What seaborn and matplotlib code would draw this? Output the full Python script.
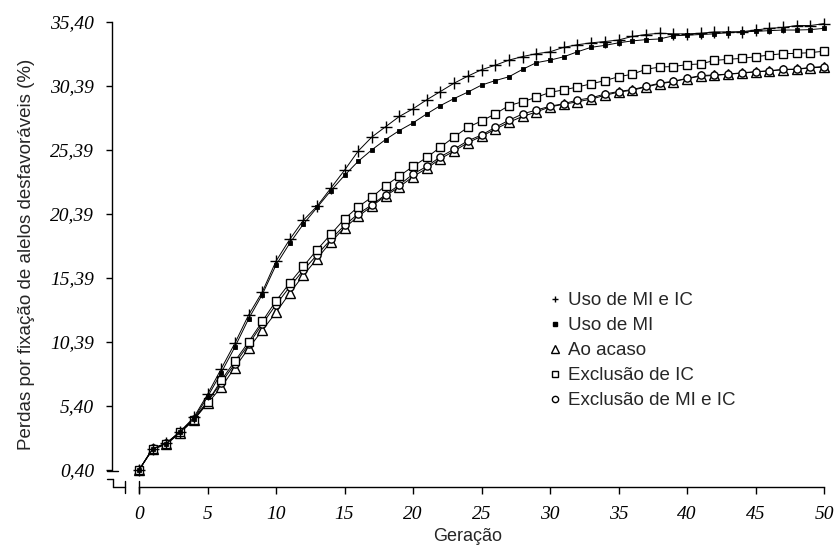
import numpy as np
import pandas as pd
import matplotlib
matplotlib.use("Agg")
import matplotlib.pyplot as plt
import seaborn as sns
from matplotlib.lines import Line2D

# ---------------- data ----------------
geracao = list(range(51))

uso_mi_ic = [0.40, 2.05, 2.50, 3.40, 4.50, 6.30, 8.30, 10.30, 12.50, 14.30,
             16.70, 18.40, 19.90, 21.00, 22.40, 23.80, 25.30, 26.40, 27.20, 28.00,
             28.60, 29.30, 29.95, 30.60, 31.15, 31.65, 32.00, 32.40, 32.68, 32.90,
             33.05, 33.40, 33.60, 33.75, 33.85, 33.97, 34.25, 34.40, 34.50, 34.45,
             34.45, 34.50, 34.60, 34.60, 34.62, 34.75, 34.88, 34.95, 35.10, 35.10,
             35.25]

uso_mi = [0.40, 2.05, 2.45, 3.35, 4.40, 6.10, 8.00, 10.00, 12.20, 14.10,
          16.40, 18.10, 19.60, 20.90, 22.20, 23.40, 24.50, 25.40, 26.20, 26.90,
          27.50, 28.20, 28.85, 29.40, 29.90, 30.45, 30.80, 31.10, 31.68, 32.20,
          32.40, 32.66, 33.05, 33.40, 33.55, 33.75, 33.90, 34.00, 34.05, 34.30,
          34.35, 34.40, 34.45, 34.55, 34.60, 34.65, 34.70, 34.75, 34.75, 34.78,
          34.88]

ao_acaso = [0.40, 2.00, 2.40, 3.30, 4.30, 5.60, 6.85, 8.40, 9.90, 11.30,
            12.70, 14.20, 15.60, 16.90, 18.20, 19.30, 20.20, 21.00, 21.80, 22.50,
            23.30, 23.95, 24.70, 25.30, 25.95, 26.45, 27.00, 27.55, 28.00, 28.35,
            28.75, 28.95, 29.15, 29.35, 29.65, 29.90, 30.05, 30.30, 30.55, 30.72,
            30.95, 31.15, 31.20, 31.30, 31.38, 31.48, 31.55, 31.65, 31.68, 31.80,
            31.85]

exclusao_ic = [0.40, 2.05, 2.45, 3.35, 4.30, 5.70, 7.40, 8.90, 10.40, 12.00,
               13.60, 15.00, 16.30, 17.60, 18.80, 20.00, 20.95, 21.70, 22.60, 23.35,
               24.10, 24.80, 25.60, 26.40, 27.15, 27.65, 28.20, 28.85, 29.15, 29.50,
               29.88, 30.08, 30.30, 30.55, 30.80, 31.10, 31.30, 31.68, 31.86, 31.90,
               32.05, 32.10, 32.38, 32.46, 32.54, 32.66, 32.80, 32.90, 32.93, 32.98,
               33.10]

exclusao_mi_ic = [0.40, 2.10, 2.50, 3.40, 4.40, 5.75, 7.20, 8.70, 10.20, 11.80,
                  13.30, 14.70, 16.00, 17.20, 18.40, 19.50, 20.40, 21.10, 21.90, 22.65,
                  23.50, 24.10, 24.85, 25.45, 26.10, 26.55, 27.15, 27.70, 28.20, 28.50,
                  28.80, 29.00, 29.28, 29.45, 29.75, 29.95, 30.10, 30.35, 30.60, 30.75,
                  30.98, 31.20, 31.24, 31.31, 31.41, 31.50, 31.57, 31.68, 31.70, 31.83,
                  31.90]

series_names = ["Uso de MI e IC", "Uso de MI", "Ao acaso",
                "Exclusão de IC", "Exclusão de MI e IC"]

y_ticks = [0.40, 5.40, 10.39, 15.39, 20.39, 25.39, 30.39, 35.40]
y_tick_labels = ["0,40", "5,40", "10,39", "15,39", "20,39", "25,39", "30,39", "35,40"]
x_ticks = list(range(0, 51, 5))

x_label = "Geração"
y_label = "Perdas por fixação de alelos desfavoráveis (%)"

# ---------------- styling ----------------
sns.set_style("ticks")
plt.rcParams["font.family"] = ["Liberation Sans", "DejaVu Sans"]

values = {
    "Uso de MI e IC": uso_mi_ic,
    "Uso de MI": uso_mi,
    "Ao acaso": ao_acaso,
    "Exclusão de IC": exclusao_ic,
    "Exclusão de MI e IC": exclusao_mi_ic,
}
styles = {
    "Uso de MI e IC": dict(marker="+", markersize=8, markeredgewidth=1.0,
                           markerfacecolor="black"),
    "Uso de MI": dict(marker="s", markersize=3.2, markeredgewidth=0.6,
                      markerfacecolor="black"),
    "Ao acaso": dict(marker="^", markersize=7, markeredgewidth=1.0,
                     markerfacecolor="white"),
    "Exclusão de IC": dict(marker="s", markersize=5.5, markeredgewidth=1.0,
                           markerfacecolor="white"),
    "Exclusão de MI e IC": dict(marker="o", markersize=5.2, markeredgewidth=1.0,
                                markerfacecolor="white"),
}
legend_styles = {
    "Uso de MI e IC": dict(marker="+", markersize=5, markeredgewidth=1.0),
    "Uso de MI": dict(marker="s", markersize=3, markerfacecolor="black"),
    "Ao acaso": dict(marker="^", markersize=6, markerfacecolor="white",
                     markeredgewidth=1.0),
    "Exclusão de IC": dict(marker="s", markersize=4.5, markerfacecolor="white",
                           markeredgewidth=1.0),
    "Exclusão de MI e IC": dict(marker="o", markersize=4.5, markerfacecolor="white",
                                markeredgewidth=1.0),
}

fig = plt.figure(figsize=(8.4, 5.45), dpi=100)
# axes box: left spine at x=112px, bottom spine at y=487px, right at 824px, top at 21.7px
ax = fig.add_axes([112 / 840, (545 - 487) / 545, (824 - 112) / 840, (487 - 21.7) / 545])

draw_order = ["Ao acaso", "Exclusão de MI e IC", "Exclusão de IC", "Uso de MI", "Uso de MI e IC"]
for name in draw_order:
    df = pd.DataFrame({"Geração": geracao, "Perdas": values[name]})
    sns.lineplot(data=df, x="Geração", y="Perdas", ax=ax, color="black",
                 linewidth=0.7, markeredgecolor="black", clip_on=False,
                 legend=False, **styles[name])

ax.set_xlim(-27 / 13.7, 50)
ax.set_ylim(-0.93, 35.4)

ax.spines["top"].set_visible(False)
ax.spines["right"].set_visible(False)
ax.spines["left"].set_bounds(0.40, 35.40)
ax.spines["bottom"].set_bounds(0, 50)
for s in ("left", "bottom"):
    ax.spines[s].set_linewidth(1.0)
    ax.spines[s].set_color("black")

ax.set_xticks(x_ticks)
ax.set_xticklabels([str(v) for v in x_ticks])
ax.set_yticks(y_ticks)
ax.set_yticklabels(y_tick_labels)
ax.tick_params(axis="y", direction="out", length=4, width=1.0, pad=9, colors="black")
ax.tick_params(axis="x", direction="out", length=5, width=1.0, pad=9, colors="black")
for lab in ax.get_xticklabels() + ax.get_yticklabels():
    lab.set_fontfamily("Liberation Serif")
    lab.set_fontstyle("italic")
    lab.set_fontsize(14)

ax.set_xlabel(x_label, fontsize=13, labelpad=3)
ax.set_ylabel(y_label, fontsize=13.5, labelpad=11)
ax.grid(False)

# axis-break decoration (pixel positions converted to axes fraction)
def fx(px):
    return (px - 112) / 712

def fy(py):
    return (487 - py) / 465.3

deco = dict(color="black", linewidth=1.0, transform=ax.transAxes, clip_on=False)
ax.plot([fx(107), fx(118)], [fy(470.5), fy(470.5)], **deco)   # cap at 0,40
ax.plot([fx(107), fx(113)], [fy(479), fy(479)], **deco)
ax.plot([fx(112.5), fx(112.5)], [fy(479), fy(487)], **deco)
ax.plot([fx(112.5), fx(125)], [fy(487), fy(487)], **deco)
ax.plot([fx(125), fx(125)], [fy(481), fy(493)], **deco)
ax.plot([fx(139), fx(139)], [fy(481), fy(493)], **deco)

# legend
handles = [Line2D([], [], color="black", linestyle="none", markeredgecolor="black",
                  **legend_styles[n]) for n in series_names]
ax.legend(handles, series_names, loc="upper left",
          bbox_to_anchor=(fx(548), fy(292)), frameon=False, fontsize=13.5,
          handlelength=0.7, handletextpad=0.35, labelspacing=0.42, borderpad=0,
          borderaxespad=0)

fig.savefig("out.png", dpi=100)
